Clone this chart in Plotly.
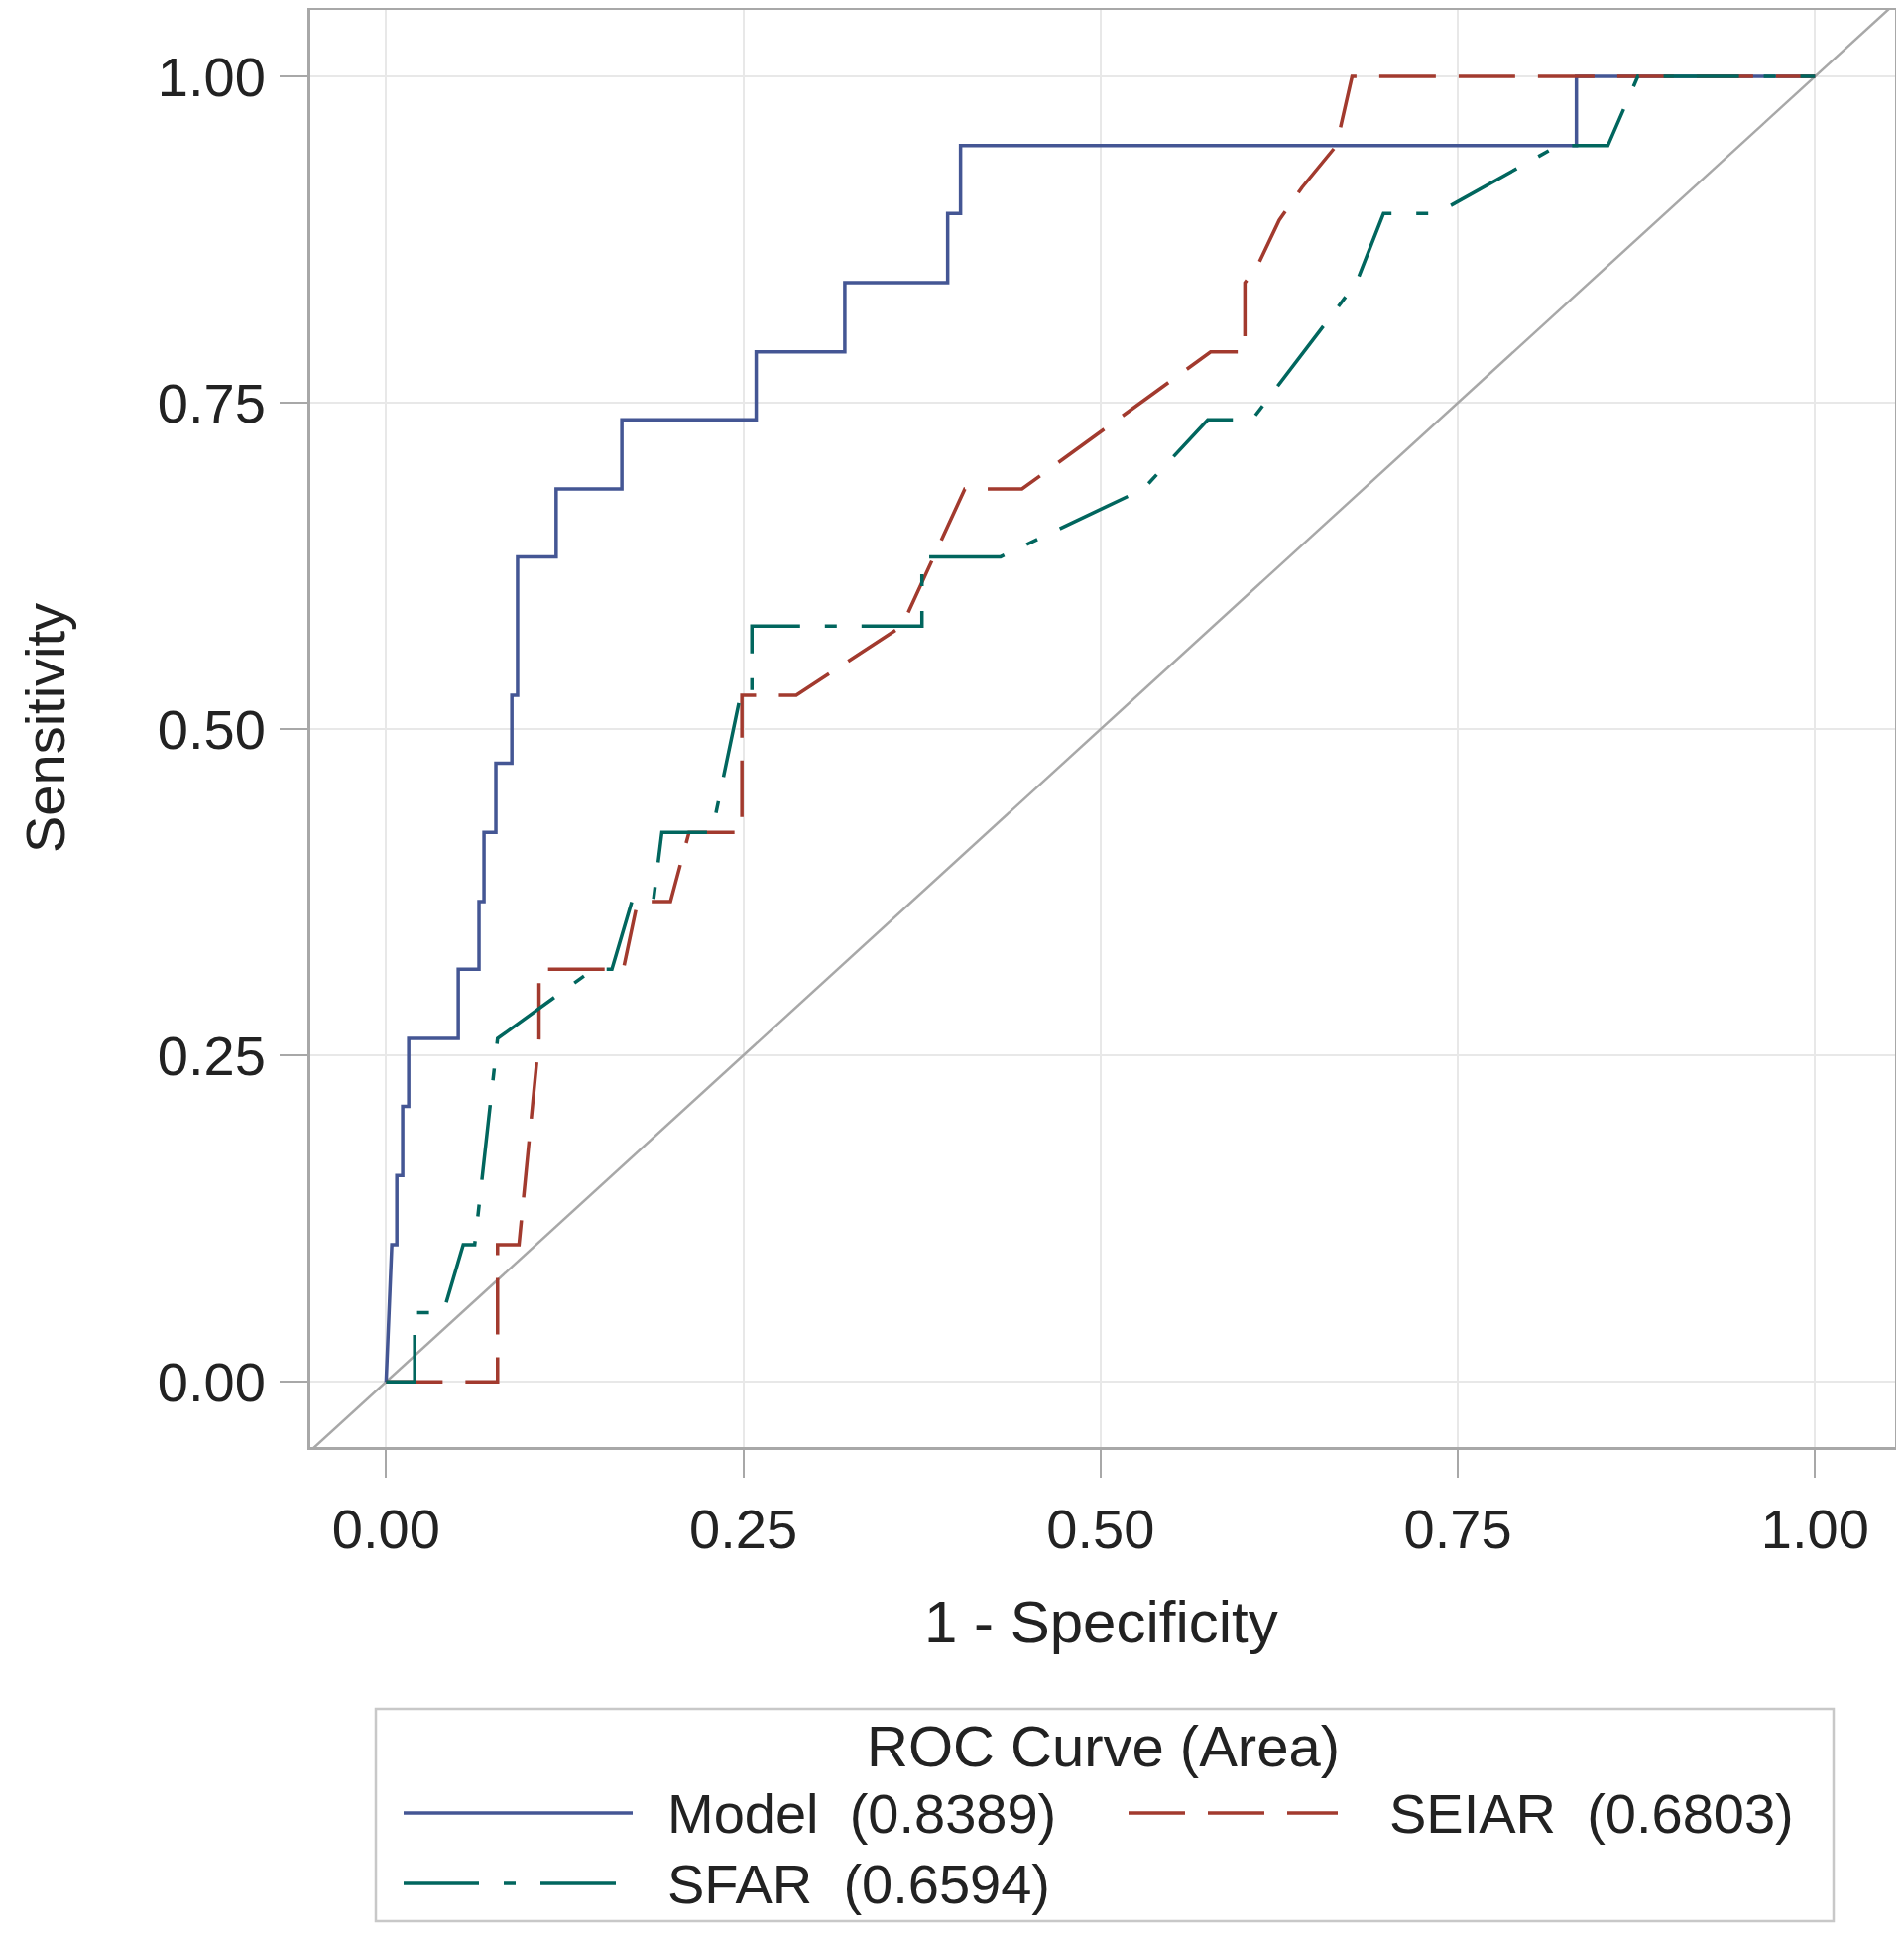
import plotly.graph_objects as go

# ROC curves: x = 1 - specificity, y = sensitivity
model_fpr = [0, 0.004, 0.0075, 0.0075, 0.0116, 0.0116, 0.0158, 0.0158, 0.0505, 0.0505,
             0.065, 0.065, 0.0685, 0.0685, 0.0768, 0.0768, 0.088, 0.088, 0.092, 0.092,
             0.119, 0.119, 0.165, 0.165, 0.259, 0.259, 0.321, 0.321, 0.393, 0.393,
             0.402, 0.402, 0.833, 0.833, 1.0]
model_tpr = [0, 0.105, 0.105, 0.158, 0.158, 0.211, 0.211, 0.263, 0.263, 0.316,
             0.316, 0.368, 0.368, 0.421, 0.421, 0.474, 0.474, 0.526, 0.526, 0.632,
             0.632, 0.684, 0.684, 0.737, 0.737, 0.789, 0.789, 0.842, 0.842, 0.895,
             0.895, 0.947, 0.947, 1.0, 1.0]

seiar_fpr = [0, 0.078, 0.078, 0.093, 0.107, 0.107, 0.166, 0.176, 0.199, 0.212, 0.249,
             0.249, 0.287, 0.361, 0.405, 0.445, 0.577, 0.601, 0.601, 0.609, 0.625,
             0.641, 0.665, 0.676, 1.0]
seiar_tpr = [0, 0, 0.105, 0.105, 0.263, 0.316, 0.316, 0.368, 0.368, 0.421, 0.421,
             0.526, 0.526, 0.579, 0.684, 0.684, 0.789, 0.789, 0.842, 0.853, 0.89,
             0.915, 0.947, 1.0, 1.0]

sfar_fpr = [0, 0.02, 0.02, 0.04, 0.054, 0.062, 0.078, 0.145, 0.158, 0.172, 0.187,
            0.193, 0.228, 0.248, 0.256, 0.256, 0.375, 0.375, 0.43, 0.53, 0.575,
            0.606, 0.679, 0.698, 0.735, 0.82, 0.855, 0.876, 1.0]
sfar_tpr = [0, 0, 0.053, 0.053, 0.105, 0.105, 0.263, 0.316, 0.316, 0.368, 0.368,
            0.421, 0.421, 0.526, 0.526, 0.579, 0.579, 0.632, 0.632, 0.684, 0.737,
            0.737, 0.842, 0.895, 0.895, 0.947, 0.947, 1.0, 1.0]

chance = [-0.06, 1.06]

names = ["Model", "SEIAR", "SFAR"]
areas = [0.8389, 0.6803, 0.6594]
colors = ["#445694", "#A23A2E", "#01665E"]
dashes = ["solid", "57px,23px", "76px,25px,12px,25px"]

tick_vals = [0, 0.25, 0.5, 0.75, 1.0]

FONT = "Liberation Sans, Arial, sans-serif"
TXT = "#222222"
W, H = 1920, 1950
OFF = 8  # page body margin: the figure sits 8px in from the window corner
L, R, T, B = 305, 17, 2, 499


def px_x(p):
    # window pixel -> paper x
    return (p - OFF - L) / (W - L - R)


def px_y(p):
    # window pixel -> paper y
    return (H - B - (p - OFF)) / (H - T - B)


fig = go.Figure()
fig.add_trace(go.Scatter(x=chance, y=chance, mode="lines",
                         line=dict(color="#A8A8A8", width=2.5), showlegend=False))

curves = [(model_fpr, model_tpr), (seiar_fpr, seiar_tpr), (sfar_fpr, sfar_tpr)]
for (fx, fy), name, col, dsh in zip(curves, names, colors, dashes):
    fig.add_trace(go.Scatter(x=fx, y=fy, mode="lines", name=name,
                             line=dict(color=col, width=3.5, dash=dsh), showlegend=False))

axis_common = dict(
    tickvals=tick_vals, tickformat=".2f", ticks="outside", ticklen=28, tickwidth=2,
    tickcolor="#A8A8A8", showline=True, mirror=True, linecolor="#A8A8A8", linewidth=3,
    showgrid=True, gridcolor="#E8E8E8", gridwidth=2, zeroline=False, automargin=False,
    tickfont=dict(family=FONT, size=56, color=TXT),
)

fig.update_layout(
    width=W, height=H,
    margin=dict(l=L, r=R, t=T, b=B),
    plot_bgcolor="white", paper_bgcolor="white",
    font=dict(family=FONT, color=TXT),
    xaxis=dict(range=[-0.053, 1.056], ticklabelstandoff=4, **axis_common),
    yaxis=dict(range=[-0.05, 1.051], ticklabelstandoff=3, **axis_common),
)

# axis titles
fig.add_annotation(xref="paper", yref="paper", x=px_x(1110), y=px_y(1635),
                   text="1 - Specificity", showarrow=False, xanchor="center", yanchor="middle",
                   font=dict(family=FONT, size=60, color=TXT))
fig.add_annotation(xref="paper", yref="paper", x=px_x(45), y=px_y(734),
                   text="Sensitivity", showarrow=False, textangle=-90,
                   xanchor="center", yanchor="middle",
                   font=dict(family=FONT, size=56, color=TXT))

# legend box drawn by hand so the line samples are as long as in the original
fig.add_shape(type="rect", xref="paper", yref="paper",
              x0=px_x(379), x1=px_x(1849), y0=px_y(1937), y1=px_y(1723),
              line=dict(color="#C8C8C8", width=2.5), fillcolor="white")
fig.add_annotation(xref="paper", yref="paper", x=px_x(1112), y=px_y(1760),
                   text="ROC Curve (Area)", showarrow=False, xanchor="center", yanchor="middle",
                   font=dict(family=FONT, size=58, color=TXT))

slots = [(407, 638, 671, 1828), (1138, 1349, 1399, 1828), (407, 638, 671, 1899)]
for (lx0, lx1, tx, ty), name, area, col, dsh in zip(slots, names, areas, colors, dashes):
    fig.add_shape(type="line", xref="paper", yref="paper",
                  x0=px_x(lx0), x1=px_x(lx1), y0=px_y(ty), y1=px_y(ty),
                  line=dict(color=col, width=3.5, dash=dsh))
    fig.add_annotation(xref="paper", yref="paper", x=px_x(tx), y=px_y(ty),
                       text=f"{name}&nbsp; ({area:.4f})", showarrow=False,
                       xanchor="left", yanchor="middle",
                       font=dict(family=FONT, size=56, color=TXT))

fig.write_html("out.html")
